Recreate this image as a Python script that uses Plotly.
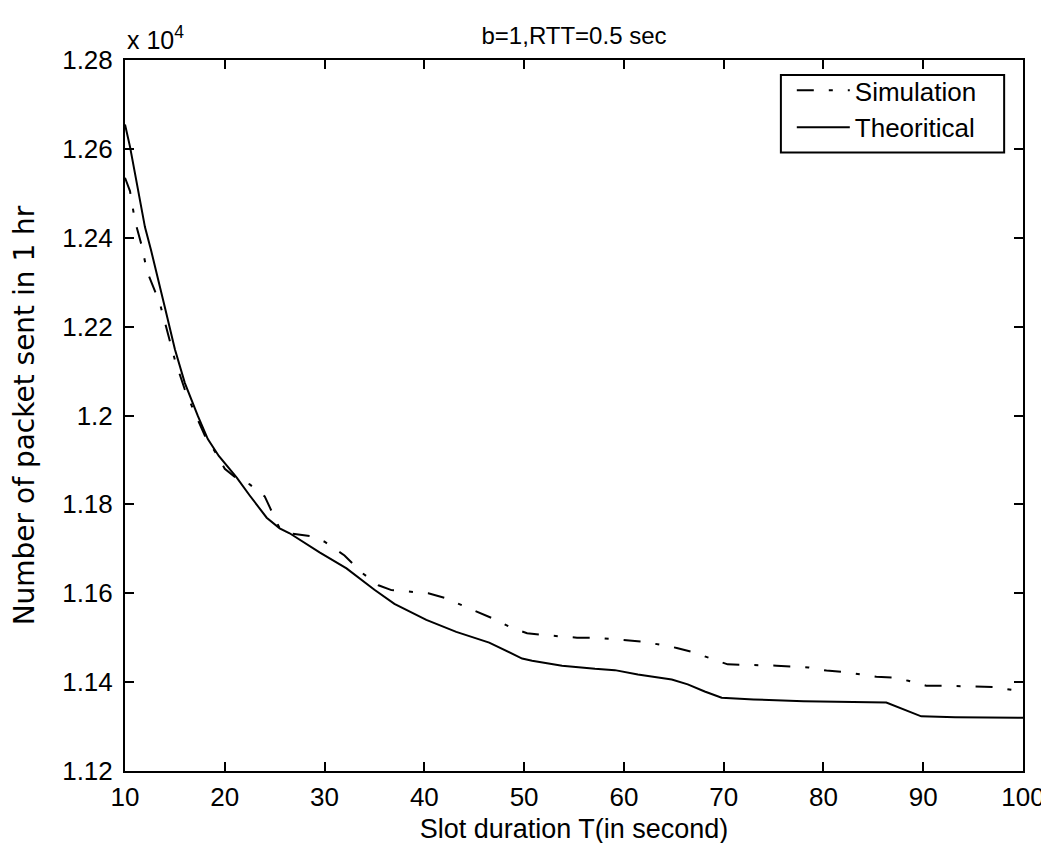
import plotly.graph_objects as go

# Slot duration T (seconds)
theory_x = [10, 10.5, 11, 11.5, 12, 12.6, 13.3, 14, 15, 16, 17.3, 18.3, 19.4, 21.2, 22.5,
            24.2, 25.5, 26.5, 29.5, 32.2, 35, 37, 40.2, 43.2, 46.5, 49.8, 50.8,
            53.8, 57.1, 59.1, 61.4, 64.8, 66.4, 68.1, 69.8, 73, 78, 86.3, 89.8, 93.2, 100]
# Number of packets sent in 1 hr (theoretical)
theory_y = [12655, 12605, 12545, 12480, 12424, 12373, 12305, 12243, 12149, 12073, 11999,
            11947, 11909, 11860, 11820, 11770, 11746, 11735, 11692, 11656, 11608, 11576,
            11540, 11513, 11489, 11453, 11448, 11437, 11430, 11427, 11417, 11406,
            11395, 11379, 11365, 11361, 11357, 11354, 11323, 11321, 11320]

sim_x = [10, 10.5, 11, 11.7, 12.2, 13, 13.5, 15, 16, 17, 18, 19.4, 20, 21.2, 22.5, 24,
         25.5, 26.5, 28.7, 30, 32, 33.7, 35.4, 36.7, 40.4, 42, 43.7, 45.4, 47, 48.6, 50.3,
         52, 55.3, 57, 60.3, 62, 65.3, 67, 68.6, 70.4, 75.3, 78.5, 80.3, 82, 85.3, 87,
         88.5, 90.3, 92, 97, 99.3, 100]
sim_y = [12535, 12505, 12438, 12380, 12325, 12280, 12252, 12125, 12058, 12005, 11955,
         11905, 11880, 11858, 11845, 11818, 11746, 11735, 11728, 11716, 11685, 11647,
         11618, 11607, 11600, 11590, 11574, 11558, 11542, 11524, 11510, 11506, 11500,
         11500, 11493, 11491, 11477, 11467, 11454, 11440, 11437, 11433, 11426, 11423,
         11412, 11410, 11403, 11392, 11392, 11389, 11381, 11380]

y_ticks = [11200, 11400, 11600, 11800, 12000, 12200, 12400, 12600, 12800]
y_tick_text = ["1.12", "1.14", "1.16", "1.18", "1.2", "1.22", "1.24", "1.26", "1.28"]
x_ticks = [10, 20, 30, 40, 50, 60, 70, 80, 90, 100]

FONT = "Liberation Sans, Arial, sans-serif"
WIDE = "DejaVu Sans, sans-serif"

# plot-area geometry in pixels (used to place the legend frame)
W, H = 1049, 843
L, R, T, B = 117, 27, 52, 76
PW, PH = W - L - R, H - T - B


def px_x(p):
    return (p - L) / PW


def px_y(p):
    return (H - B - p) / PH


fig = go.Figure()
fig.add_trace(go.Scatter(x=sim_x, y=sim_y, mode="lines", name="Simulation",
                         line=dict(color="black", width=2, dash="17px,15px,4px,15px")))
fig.add_trace(go.Scatter(x=theory_x, y=theory_y, mode="lines", name="Theoritical",
                         line=dict(color="black", width=2)))

axis_common = dict(showline=True, linecolor="black", linewidth=2, mirror="ticks",
                   ticks="inside", ticklen=9, tickwidth=2, tickcolor="black",
                   showgrid=False, zeroline=False,
                   tickfont=dict(family=FONT, size=26, color="black"))

fig.update_layout(
    width=W, height=H,
    margin=dict(l=L, r=R, t=T, b=B),
    paper_bgcolor="white", plot_bgcolor="white",
    font=dict(family=FONT, size=26, color="black"),
    title=dict(text="b=1,RTT=0.5 sec", x=0.5, xref="paper", xanchor="center",
               y=1 - 28 / H, yanchor="middle",
               font=dict(family=FONT, size=24, color="black")),
    xaxis=dict(range=[10, 100], tickvals=x_ticks, ticklabelstandoff=2,
               title=dict(text="Slot duration T(in second)", standoff=8,
                          font=dict(family=FONT, size=27)),
               **axis_common),
    yaxis=dict(range=[11200, 12800], tickvals=y_ticks, ticktext=y_tick_text,
               ticklabelstandoff=5,
               title=dict(text="Number of packet sent in 1 hr", standoff=20,
                          font=dict(family=WIDE, size=28)),
               **axis_common),
    legend=dict(x=px_x(789), y=px_y(59), xanchor="left", yanchor="top",
                bgcolor="rgba(0,0,0,0)", borderwidth=0,
                font=dict(family=FONT, size=26, color="black"),
                itemwidth=53, tracegroupgap=0),
    showlegend=True,
)

# legend frame
fig.add_shape(type="rect", xref="paper", yref="paper",
              x0=px_x(778), x1=px_x(1003), y0=px_y(145), y1=px_y(67),
              line=dict(color="black", width=2), fillcolor="white", layer="above")

fig.add_annotation(text="x 10<sup>4</sup>", xref="paper", yref="paper",
                   x=0, y=1, xanchor="left", yanchor="bottom", yshift=4,
                   showarrow=False, font=dict(family=FONT, size=25, color="black"))

fig.write_html("out.html")
